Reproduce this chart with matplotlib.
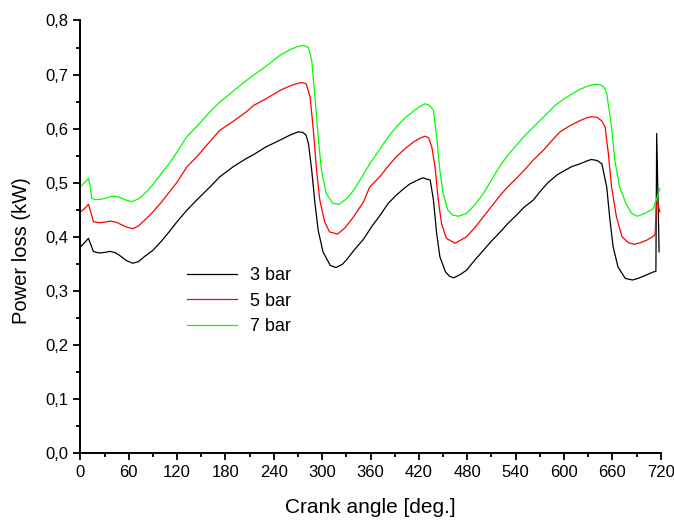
import matplotlib
matplotlib.use("Agg")
import matplotlib.pyplot as plt
from matplotlib.ticker import MultipleLocator, FuncFormatter

plt.rcParams['font.family'] = ['Liberation Sans', 'DejaVu Sans']

# power loss vs crank angle, read per series
angle_3bar = [0, 5, 10, 13, 16, 20, 25, 30, 37, 44, 50, 57, 65, 72, 80, 90, 100, 110,
              120, 132, 145, 160, 173, 190, 205, 215, 230, 248, 260, 270, 276, 280,
              283, 287, 291, 295, 301, 310, 317, 325, 330, 340, 351, 362, 372, 382,
              392, 402, 409, 420, 425, 431, 434, 438, 442, 446, 453, 458, 463, 470,
              479, 490, 500, 510, 521, 530, 541, 550, 562, 570, 580, 591, 600, 610,
              620, 628, 634, 641, 647, 653, 657, 661, 667, 676, 685, 692, 700, 711,
              714, 715, 718]
loss_3bar = [0.381, 0.389, 0.397, 0.385, 0.373, 0.371, 0.370, 0.371, 0.373, 0.370,
             0.364, 0.356, 0.351, 0.354, 0.364, 0.375, 0.391, 0.409, 0.428, 0.449,
             0.469, 0.491, 0.511, 0.530, 0.544, 0.552, 0.566, 0.579, 0.588, 0.594,
             0.593, 0.588, 0.572, 0.523, 0.462, 0.412, 0.372, 0.347, 0.343, 0.349,
             0.357, 0.376, 0.395, 0.420, 0.440, 0.462, 0.477, 0.490, 0.498, 0.506,
             0.509, 0.506, 0.505, 0.468, 0.406, 0.363, 0.335, 0.327, 0.324, 0.329,
             0.338, 0.358, 0.375, 0.392, 0.409, 0.424, 0.440, 0.454, 0.468, 0.483,
             0.500, 0.514, 0.522, 0.530, 0.535, 0.540, 0.543, 0.541, 0.535, 0.492,
             0.431, 0.381, 0.344, 0.323, 0.320, 0.323, 0.328, 0.335, 0.336, 0.591,
             0.372]

angle_5bar = [0, 5, 10, 13, 16, 24, 30, 37, 44, 50, 57, 65, 72, 82, 90, 100, 110, 120,
              132, 145, 160, 173, 190, 205, 215, 230, 248, 260, 270, 275, 280, 285,
              289, 293, 297, 303, 309, 319, 328, 339, 351, 359, 372, 382, 392, 402,
              413, 422, 428, 432, 436, 440, 444, 448, 454, 465, 479, 490, 500, 510,
              521, 530, 541, 550, 562, 575, 585, 595, 607, 620, 628, 634, 641, 647,
              651, 655, 659, 665, 672, 680, 687, 695, 703, 711, 713, 715, 719]
loss_5bar = [0.446, 0.452, 0.460, 0.445, 0.428, 0.426, 0.427, 0.429, 0.427, 0.423,
             0.418, 0.415, 0.420, 0.434, 0.446, 0.463, 0.482, 0.501, 0.529, 0.549,
             0.575, 0.597, 0.614, 0.630, 0.643, 0.655, 0.671, 0.679, 0.684, 0.685,
             0.683, 0.659, 0.597, 0.523, 0.468, 0.428, 0.409, 0.405, 0.416, 0.437,
             0.464, 0.492, 0.512, 0.531, 0.548, 0.562, 0.575, 0.583, 0.586, 0.583,
             0.566, 0.529, 0.468, 0.425, 0.397, 0.388, 0.400, 0.418, 0.437, 0.456,
             0.477, 0.492, 0.508, 0.522, 0.542, 0.561, 0.578, 0.594, 0.605, 0.615,
             0.620, 0.622, 0.621, 0.614, 0.603, 0.554, 0.492, 0.437, 0.400, 0.389,
             0.386, 0.389, 0.394, 0.401, 0.404, 0.468, 0.446]

angle_7bar = [0, 5, 10, 12, 14, 18, 24, 30, 39, 46, 52, 58, 64, 72, 82, 90, 100, 110,
              120, 132, 145, 160, 173, 190, 205, 215, 230, 248, 260, 270, 277, 283,
              287, 291, 295, 299, 305, 313, 321, 330, 339, 349, 359, 372, 382, 392,
              402, 413, 422, 428, 433, 438, 442, 446, 450, 456, 462, 469, 479, 490,
              500, 510, 521, 530, 541, 550, 562, 575, 589, 600, 610, 620, 630, 638,
              645, 650, 653, 659, 663, 669, 677, 684, 691, 700, 711, 715, 719]
loss_7bar = [0.492, 0.500, 0.508, 0.495, 0.471, 0.469, 0.469, 0.471, 0.475, 0.474,
             0.471, 0.467, 0.465, 0.470, 0.483, 0.497, 0.516, 0.535, 0.557, 0.585,
             0.605, 0.630, 0.649, 0.670, 0.688, 0.699, 0.715, 0.736, 0.746, 0.752,
             0.754, 0.750, 0.726, 0.659, 0.585, 0.523, 0.480, 0.462, 0.460, 0.470,
             0.486, 0.510, 0.535, 0.563, 0.585, 0.603, 0.619, 0.632, 0.642, 0.646,
             0.643, 0.634, 0.585, 0.523, 0.480, 0.449, 0.440, 0.438, 0.443, 0.460,
             0.480, 0.505, 0.532, 0.550, 0.569, 0.585, 0.603, 0.622, 0.643, 0.655,
             0.664, 0.673, 0.679, 0.682, 0.681, 0.676, 0.665, 0.603, 0.542, 0.492,
             0.461, 0.443, 0.438, 0.443, 0.452, 0.471, 0.489]

series = [
    (angle_3bar, loss_3bar, '#000000', '3 bar'),
    (angle_5bar, loss_5bar, '#ff0000', '5 bar'),
    (angle_7bar, loss_7bar, '#00ff00', '7 bar'),
]

fig = plt.figure(figsize=(6.74, 5.20), dpi=100)
ax = fig.add_axes([0.1193, 0.1288, 0.8610, 0.8318])

for x, y, color, name in series:
    ax.plot(x, y, color=color, lw=0.9, label=name)

ax.set_xlim(0, 720)
ax.set_ylim(0.0, 0.8)
ax.xaxis.set_major_locator(MultipleLocator(60))
ax.xaxis.set_minor_locator(MultipleLocator(30))
ax.yaxis.set_major_locator(MultipleLocator(0.1))
ax.yaxis.set_minor_locator(MultipleLocator(0.05))
ax.yaxis.set_major_formatter(FuncFormatter(lambda v, p: f"{v:.1f}".replace('.', ',')))

for side in ['top', 'right']:
    ax.spines[side].set_visible(False)
for side in ['left', 'bottom']:
    ax.spines[side].set_linewidth(1.4)
ax.tick_params(which='major', direction='out', length=5, width=1.3, labelsize=12)
ax.tick_params(which='minor', direction='out', length=3, width=1.3)

ax.set_xlabel('Crank angle [deg.]', fontsize=15, labelpad=13)
ax.set_ylabel('Power loss (kW)', fontsize=14.5)
ax.yaxis.set_label_coords(-0.086, 0.467)

ax.legend(loc='upper left', bbox_to_anchor=(0.155, 0.467), frameon=False,
          fontsize=13, handlelength=2.8, handletextpad=0.7, labelspacing=0.47)

fig.savefig('out.png', dpi=100)
